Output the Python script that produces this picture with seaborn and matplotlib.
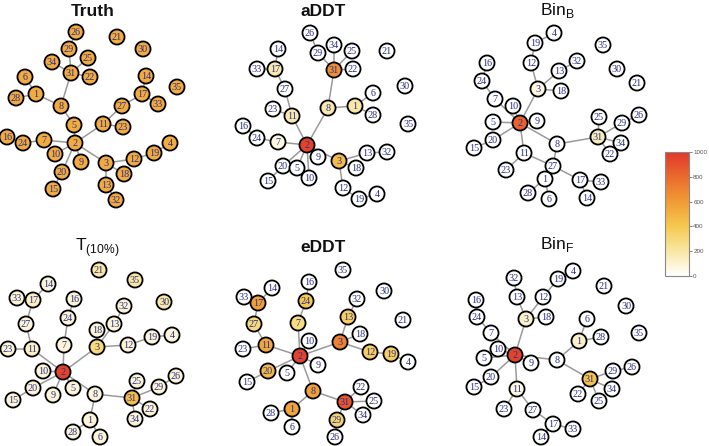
import numpy as np
import pandas as pd
import matplotlib
matplotlib.use("Agg")
import matplotlib.pyplot as plt
import seaborn as sns
from matplotlib.colors import LinearSegmentedColormap, Normalize
import matplotlib.colorbar as mcolorbar

sns.set_theme(style="white")
plt.rcParams['font.family'] = ['Liberation Sans', 'DejaVu Sans']

# ---------------- data ----------------
panel_titles = ["Truth", "aDDT", r"Bin$_\mathregular{B}$",
                r"T$_\mathregular{(10\%)}$", "eDDT", r"Bin$_\mathregular{F}$"]
panel_bold = [True, True, False, False, True, False]

# node layouts (local coordinates of each panel, node -> (x, y))
layout_truth = {26: (76, 32), 29: (69, 49), 21: (117, 37), 30: (143, 49), 34: (52, 62),
                25: (88, 58), 31: (71, 73), 22: (90, 77), 6: (25, 77), 14: (146, 76),
                35: (177, 87), 1: (36, 94), 28: (16, 98), 17: (142, 94), 8: (61, 106),
                27: (122, 106), 33: (158, 104), 5: (74, 125), 11: (103, 124), 23: (123, 127),
                16: (7, 137), 24: (23, 143), 7: (44, 140), 2: (75, 143), 4: (170, 143),
                10: (55, 154), 9: (81, 162), 19: (154, 153), 12: (134, 159), 3: (106, 163),
                20: (62, 172), 18: (124, 174), 13: (106, 185), 15: (53, 189), 32: (116, 200)}
layout_addt = {26: (130, 33), 29: (138, 53), 34: (154, 45), 25: (172, 51), 14: (98, 49),
               33: (77, 69), 17: (95, 69), 31: (154, 70), 22: (173, 69), 21: (207, 51),
               27: (105, 89), 6: (193, 93), 30: (225, 86), 1: (175, 106), 28: (193, 115),
               8: (148, 108), 23: (93, 109), 11: (112, 116), 35: (228, 124), 16: (63, 126),
               24: (77, 138), 7: (98, 142), 2: (127, 145), 9: (138, 157), 3: (159, 161),
               13: (187, 153), 32: (207, 152), 20: (103, 166), 5: (117, 168), 18: (176, 168),
               10: (129, 178), 15: (88, 181), 12: (163, 188), 19: (179, 199), 4: (197, 194)}
layout_binb = {4: (144, 33), 19: (125, 43), 35: (193, 45), 32: (167, 61), 16: (77, 63),
               12: (121, 63), 13: (149, 71), 30: (207, 69), 24: (72, 81), 3: (128, 89),
               18: (151, 91), 21: (227, 83), 7: (85, 99), 10: (103, 106), 25: (189, 117),
               26: (229, 115), 29: (212, 123), 5: (83, 122), 2: (110, 123), 9: (127, 121),
               31: (188, 137), 34: (211, 143), 20: (83, 140), 8: (147, 144), 15: (64, 148),
               22: (200, 154), 11: (114, 153), 27: (143, 166), 23: (96, 170), 1: (135, 179),
               17: (170, 180), 33: (191, 182), 28: (118, 193), 6: (139, 199), 14: (177, 198)}
layout_t10 = {21: (99, 50), 35: (135, 60), 14: (48, 64), 16: (74, 79), 33: (17, 78),
              17: (33, 80), 30: (164, 82), 32: (124, 86), 24: (68, 98), 27: (26, 104),
              13: (114, 104), 18: (97, 110), 4: (172, 115), 19: (152, 117), 7: (64, 125),
              12: (128, 125), 3: (97, 127), 23: (8, 129), 11: (32, 129), 10: (43, 151),
              2: (63, 152), 25: (137, 161), 26: (176, 156), 29: (159, 167), 20: (33, 168),
              5: (73, 168), 9: (53, 175), 8: (95, 174), 31: (132, 178), 15: (13, 180),
              22: (150, 189), 34: (135, 199), 1: (90, 200), 28: (73, 212), 6: (100, 217)}
layout_eddt = {35: (133, 50), 16: (99, 62), 14: (62, 68), 33: (34, 77), 30: (174, 71),
               32: (147, 79), 17: (48, 83), 24: (96, 81), 21: (193, 100), 13: (138, 97),
               27: (44, 104), 7: (88, 103), 10: (99, 121), 18: (150, 114), 3: (130, 122),
               11: (56, 125), 23: (33, 129), 12: (160, 132), 19: (181, 134), 4: (198, 142),
               2: (90, 136), 9: (108, 145), 20: (58, 151), 5: (77, 153), 15: (37, 162),
               8: (103, 171), 22: (151, 167), 25: (164, 181), 31: (135, 182), 34: (153, 195),
               1: (82, 189), 28: (61, 193), 29: (127, 200), 6: (82, 207), 26: (125, 217)}
layout_binf = {4: (163, 51), 32: (104, 58), 19: (148, 59), 21: (194, 66), 13: (107, 77),
               12: (133, 77), 16: (66, 80), 30: (216, 86), 24: (67, 97), 3: (116, 99),
               18: (136, 97), 6: (177, 99), 7: (81, 113), 35: (229, 113), 28: (191, 117),
               1: (169, 121), 10: (88, 129), 5: (74, 138), 2: (105, 135), 9: (121, 143),
               8: (147, 140), 29: (203, 151), 26: (222, 147), 20: (81, 157), 31: (180, 159),
               34: (202, 169), 15: (64, 167), 11: (107, 169), 22: (168, 174), 25: (189, 181),
               23: (94, 189), 27: (123, 190), 17: (143, 204), 33: (163, 209), 14: (131, 217)}

# edges
edges_truth = [(26, 29), (29, 31), (34, 31), (25, 31), (31, 22), (31, 8), (6, 1), (28, 1), (1, 8),
               (8, 5), (5, 2), (2, 7), (7, 24), (24, 16), (2, 11), (11, 27), (27, 17), (17, 14),
               (17, 33), (11, 23), (2, 10), (2, 9), (2, 20), (20, 15), (2, 3), (3, 12), (12, 19),
               (19, 4), (3, 18), (3, 13), (13, 32)]
edges_addt = [(26, 29), (29, 31), (34, 31), (25, 31), (31, 22), (31, 8), (8, 2), (8, 1), (1, 6),
              (1, 28), (14, 17), (33, 17), (17, 27), (27, 11), (11, 2), (23, 11), (16, 24),
              (24, 7), (7, 2), (2, 20), (20, 15), (2, 5), (2, 10), (2, 9), (2, 3), (3, 13),
              (13, 32), (3, 18), (3, 12), (12, 19), (19, 4)]
edges_binb = [(4, 19), (19, 12), (12, 3), (3, 2), (3, 13), (13, 32), (3, 18), (16, 24), (24, 7),
              (7, 2), (10, 2), (5, 2), (20, 2), (20, 15), (2, 9), (2, 8), (8, 31), (31, 25),
              (31, 29), (29, 26), (31, 34), (31, 22), (2, 11), (11, 23), (8, 27), (27, 1),
              (1, 28), (1, 6), (27, 17), (17, 33), (17, 14), (11, 27)]
edges_t10 = [(14, 17), (33, 17), (17, 27), (27, 11), (23, 11), (11, 2), (16, 24), (24, 7), (7, 2),
             (10, 2), (2, 3), (3, 13), (13, 32), (3, 18), (3, 12), (12, 19), (19, 4), (2, 20),
             (20, 15), (2, 9), (2, 5), (2, 8), (8, 31), (31, 25), (31, 29), (29, 26), (31, 22),
             (31, 34), (8, 1), (1, 28), (1, 6)]
edges_eddt = [(14, 17), (33, 17), (17, 27), (27, 11), (23, 11), (11, 2), (16, 24), (24, 7), (7, 2),
              (10, 2), (2, 3), (3, 13), (13, 32), (3, 18), (3, 12), (12, 19), (19, 4), (20, 2),
              (15, 20), (2, 8), (8, 1), (1, 28), (1, 6), (8, 31), (31, 22), (31, 25), (31, 34),
              (31, 29), (29, 26), (2, 9), (2, 5)]
edges_binf = [(4, 19), (19, 12), (12, 3), (13, 3), (32, 13), (3, 18), (3, 2), (16, 24), (24, 7),
              (7, 2), (10, 2), (5, 2), (20, 2), (15, 20), (9, 2), (2, 8), (8, 1), (1, 6), (1, 28),
              (8, 31), (31, 29), (29, 26), (31, 34), (31, 22), (31, 25), (2, 11), (11, 23),
              (11, 27), (27, 17), (17, 33), (17, 14)]

# node values (colour scale 0..1000); default value applies to nodes not listed
default_truth, values_truth = 530, {}
default_addt, values_addt = 0, {2: 950, 31: 650, 3: 450, 8: 180, 1: 200, 11: 180, 17: 180, 7: 70}
default_binb, values_binb = 0, {2: 830, 3: 70, 31: 160}
default_t10, values_t10 = 90, {2: 950, 31: 450, 3: 300, 21: 200, 35: 200, 30: 200, 17: 130, 11: 130}
default_eddt, values_eddt = 0, {2: 950, 31: 880, 3: 700, 8: 580, 17: 580, 11: 550, 1: 560, 20: 470,
                                24: 400, 27: 300, 7: 280, 13: 360, 12: 360, 19: 360, 29: 330}
default_binf, values_binf = 0, {2: 950, 31: 420, 1: 120, 3: 120, 11: 60}

cbar_ticks = [0, 200, 400, 600, 800, 1000]

# ---------------- styling / layout ----------------
panel_origins = [(0, 0), (180, 0), (410, 0), (0, 220), (210, 220), (410, 220)]
title_pos = [(93, 11), (323, 11), (557, 11), (97, 248), (323, 247), (557, 245)]

layouts = [layout_truth, layout_addt, layout_binb, layout_t10, layout_eddt, layout_binf]
edges_all = [edges_truth, edges_addt, edges_binb, edges_t10, edges_eddt, edges_binf]
values_all = [(default_truth, values_truth), (default_addt, values_addt),
              (default_binb, values_binb), (default_t10, values_t10),
              (default_eddt, values_eddt), (default_binf, values_binf)]

cmap = LinearSegmentedColormap.from_list(
    "heat", [(0.0, "#FFFFFF"), (0.2, "#F9E7A4"), (0.4, "#F5C94F"),
             (0.6, "#F09B36"), (0.8, "#EA6A2E"), (1.0, "#E2372A")])

W, H = 709, 446
fig = plt.figure(figsize=(W / 100, H / 100), dpi=100)
ax = fig.add_axes([0, 0, 1, 1])

rows = []
for p, (lay, (dflt, vals)) in enumerate(zip(layouts, values_all)):
    ox, oy = panel_origins[p]
    for node, (x, y) in lay.items():
        rows.append({"panel": p, "node": node, "x": x + ox, "y": y + oy,
                     "value": vals.get(node, dflt)})
df = pd.DataFrame(rows)

# edges
for p, edges in enumerate(edges_all):
    sub = df[df.panel == p].set_index("node")
    for a, b in edges:
        ax.plot([sub.loc[a, "x"], sub.loc[b, "x"]], [sub.loc[a, "y"], sub.loc[b, "y"]],
                color="#9a9a9a", lw=1.1, zorder=1, solid_capstyle="round")

# nodes
sns.scatterplot(data=df, x="x", y="y", hue="value", palette=cmap, hue_norm=(0, 1000),
                s=118, edgecolor="black", linewidth=1.3, legend=False, ax=ax, zorder=3)
ax.set_xlim(0, W)
ax.set_ylim(H, 0)
ax.axis("off")

for _, r in df.iterrows():
    ax.text(r.x, r.y + 0.6, str(int(r.node)), ha="center", va="center",
            fontsize=7.3, family="Liberation Serif", color="#2c2f8c", zorder=4)

for t, bold, (tx, ty) in zip(panel_titles, panel_bold, title_pos):
    ax.text(tx, ty, t, ha="center", va="center", fontsize=12.5,
            fontweight="bold" if bold else "normal", color="#111111")

# colorbar
cax = fig.add_axes([665 / W, 1 - 276 / H, 24 / W, 124 / H])
cb = mcolorbar.ColorbarBase(cax, cmap=cmap, norm=Normalize(0, 1000), orientation="vertical")
cb.set_ticks(cbar_ticks)
cb.ax.tick_params(labelsize=4.5, colors="#555555", length=2, width=0.5, pad=1)
cb.outline.set_edgecolor("#888888")
cb.outline.set_linewidth(0.8)

fig.savefig("out.png", dpi=100)
